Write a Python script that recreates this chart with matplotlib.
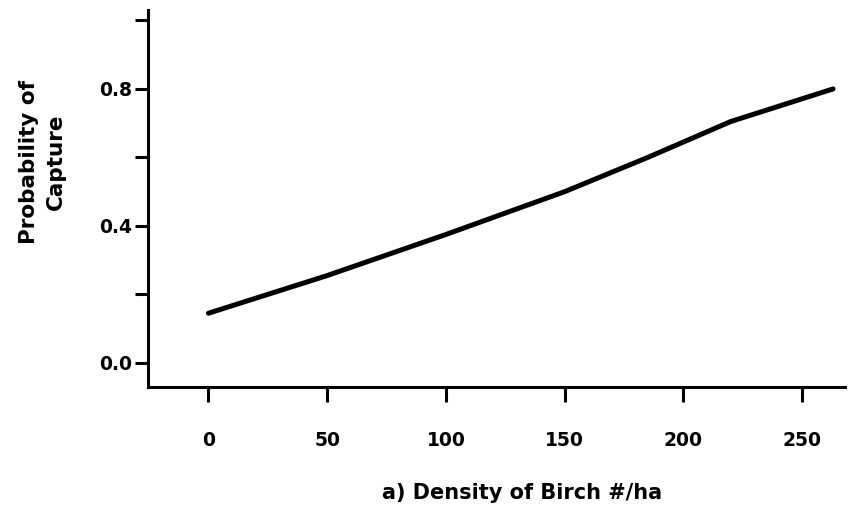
import matplotlib
matplotlib.use("Agg")
import matplotlib.pyplot as plt

# Values
birch_density = [0, 50, 100, 150, 185, 220, 263]
capture_prob = [0.145, 0.255, 0.375, 0.50, 0.60, 0.705, 0.80]

x_ticks = [0, 50, 100, 150, 200, 250]
y_ticks = [0.0, 0.4, 0.8]
y_minor_ticks = [0.2, 0.6, 1.0]

plt.rcParams['font.family'] = ['DejaVu Sans']
plt.rcParams['font.weight'] = 'bold'

fig = plt.figure(figsize=(8.5, 5.09), dpi=100)
ax = fig.add_axes([0.174, 0.240, 0.820, 0.740])

ax.plot(birch_density, capture_prob, color='black', linewidth=3.6,
        solid_capstyle='round')

ax.set_xlim(-25.5, 268)
ax.set_ylim(-0.07, 1.03)

ax.set_xticks(x_ticks)
ax.set_xticklabels([str(v) for v in x_ticks], fontsize=13.5, fontweight='bold')
ax.set_yticks(y_ticks)
ax.set_yticklabels(["%.1f" % v for v in y_ticks], fontsize=13.5, fontweight='bold')
ax.set_yticks(y_minor_ticks, minor=True)

# Spines: only left and bottom
for side in ['top', 'right']:
    ax.spines[side].set_visible(False)
for side in ['left', 'bottom']:
    ax.spines[side].set_linewidth(2.2)

ax.tick_params(axis='y', which='both', direction='out', length=9.5, width=2.2, pad=2)
ax.tick_params(axis='x', which='both', direction='out', length=11, width=2.2, pad=21)

fig.text(0.050, 0.682, "Probability of\nCapture", rotation=90,
         ha='center', va='center', multialignment='center',
         fontsize=15.5, fontweight='bold', linespacing=1.4)
fig.text(0.614, 0.031, "a) Density of Birch #/ha", ha='center', va='center',
         fontsize=15, fontweight='bold')

fig.savefig("out.png", dpi=100)
